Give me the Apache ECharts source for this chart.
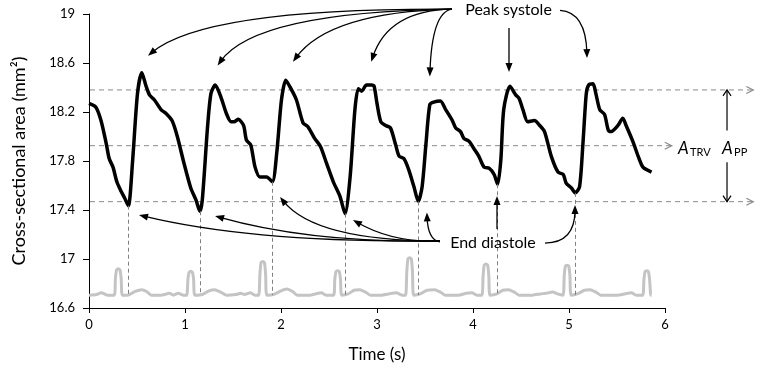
<!DOCTYPE html>
<html>
<head>
<meta charset="utf-8">
<script src="https://cdn.jsdelivr.net/npm/echarts@6/dist/echarts.min.js"></script>
<style>
  html, body { margin: 0; padding: 0; background: #fff; }
  #chart { width: 770px; height: 380px; }
</style>
</head>
<body>
<div id="chart"></div>
<script>
// cross-sectional area trace, [time s, area mm2]
var pulse = [
  [0, 18.27], [0.07, 18.24], [0.125, 18.13], [0.18, 17.94], [0.21, 17.82], [0.25, 17.75], [0.29, 17.63],
  [0.33, 17.56], [0.37, 17.5], [0.41, 17.435], [0.455, 17.81], [0.505, 18.35], [0.55, 18.52], [0.595, 18.41],
  [0.63, 18.34], [0.68, 18.3], [0.75, 18.22], [0.8, 18.19], [0.865, 18.13], [0.92, 18.0], [0.99, 17.78],
  [1.06, 17.58], [1.115, 17.48], [1.155, 17.39], [1.18, 17.48], [1.235, 18.08], [1.27, 18.35], [1.315, 18.42],
  [1.375, 18.32], [1.43, 18.19], [1.48, 18.12], [1.51, 18.12], [1.555, 18.14], [1.61, 18.09], [1.64, 17.97],
  [1.685, 17.93], [1.73, 17.75], [1.78, 17.67], [1.85, 17.67], [1.91, 17.63], [1.955, 17.86], [2.005, 18.3],
  [2.05, 18.46], [2.09, 18.41], [2.16, 18.3], [2.23, 18.11], [2.28, 18.08], [2.35, 17.985], [2.41, 17.92],
  [2.475, 17.78], [2.545, 17.63], [2.615, 17.51], [2.667, 17.37], [2.72, 17.67], [2.77, 18.22], [2.805, 18.39],
  [2.84, 18.37], [2.89, 18.42], [2.945, 18.42], [2.97, 18.41], [3.0, 18.27], [3.04, 18.12], [3.09, 18.09],
  [3.14, 18.07], [3.195, 17.93], [3.23, 17.84], [3.28, 17.82], [3.33, 17.73], [3.385, 17.59], [3.43, 17.47],
  [3.47, 17.59], [3.51, 17.94], [3.55, 18.26], [3.59, 18.28], [3.66, 18.29], [3.715, 18.22], [3.785, 18.13],
  [3.82, 18.07], [3.87, 18.04], [3.905, 17.985], [3.96, 17.96], [4.01, 17.9], [4.06, 17.84], [4.115, 17.75],
  [4.17, 17.74], [4.22, 17.69], [4.257, 17.61], [4.29, 17.81], [4.32, 18.22], [4.385, 18.41], [4.445, 18.34],
  [4.48, 18.31], [4.52, 18.22], [4.57, 18.12], [4.64, 18.13], [4.695, 18.09], [4.745, 18.04], [4.815, 17.84],
  [4.885, 17.71], [4.94, 17.69], [4.97, 17.62], [5.025, 17.58], [5.065, 17.54], [5.11, 17.59], [5.145, 17.94],
  [5.18, 18.35], [5.205, 18.42], [5.25, 18.43], [5.28, 18.35], [5.32, 18.22], [5.37, 18.18], [5.41, 18.05],
  [5.44, 18.04], [5.51, 18.09], [5.56, 18.15], [5.595, 18.09], [5.665, 17.96], [5.72, 17.84], [5.77, 17.75],
  [5.86, 17.71]
]

// ECG trace (grey), drawn on the same scale near the bottom
var ecg = [
  [0, 16.705], [0.08, 16.71], [0.13, 16.725], [0.19, 16.705],
  [0.263, 16.705], [0.275, 16.84], [0.287, 16.91], [0.305, 16.92], [0.323, 16.91], [0.335, 16.84], [0.347, 16.705],
  [0.4, 16.705], [0.48, 16.735], [0.55, 16.75], [0.6, 16.735], [0.65, 16.705], [0.75, 16.705], [0.84, 16.72],
  [0.88, 16.705], [0.93, 16.72], [0.98, 16.705],
  [1.018, 16.705], [1.03, 16.83], [1.042, 16.89], [1.06, 16.9], [1.078, 16.89], [1.09, 16.83], [1.102, 16.705],
  [1.18, 16.71], [1.25, 16.74], [1.31, 16.75], [1.37, 16.73], [1.43, 16.705], [1.53, 16.71], [1.58, 16.72],
  [1.62, 16.71], [1.68, 16.725], [1.73, 16.705],
  [1.768, 16.705], [1.78, 16.87], [1.792, 16.97], [1.81, 16.98], [1.828, 16.97], [1.84, 16.87], [1.852, 16.705],
  [1.92, 16.71], [2.0, 16.74], [2.06, 16.755], [2.12, 16.735], [2.17, 16.705], [2.3, 16.705], [2.36, 16.715],
  [2.42, 16.725], [2.47, 16.705],
  [2.548, 16.705], [2.56, 16.83], [2.572, 16.895], [2.59, 16.905], [2.608, 16.895], [2.62, 16.83], [2.632, 16.705],
  [2.7, 16.715], [2.76, 16.745], [2.82, 16.75], [2.88, 16.73], [2.93, 16.705], [3.05, 16.705], [3.12, 16.715],
  [3.2, 16.725], [3.26, 16.705],
  [3.298, 16.705], [3.31, 16.89], [3.322, 17.0], [3.34, 17.01], [3.358, 17.0], [3.37, 16.89], [3.382, 16.705],
  [3.45, 16.715], [3.52, 16.745], [3.6, 16.75], [3.66, 16.73], [3.71, 16.705], [3.85, 16.705], [3.93, 16.72],
  [3.99, 16.725], [4.04, 16.705],
  [4.093, 16.705], [4.105, 16.86], [4.117, 16.95], [4.135, 16.96], [4.153, 16.95], [4.165, 16.86], [4.177, 16.705],
  [4.25, 16.715], [4.31, 16.745], [4.37, 16.75], [4.43, 16.73], [4.48, 16.705], [4.62, 16.705], [4.7, 16.715],
  [4.76, 16.72], [4.83, 16.73], [4.88, 16.715],
  [4.938, 16.705], [4.95, 16.86], [4.962, 16.94], [4.98, 16.95], [4.998, 16.94], [5.01, 16.86], [5.022, 16.705],
  [5.1, 16.72], [5.16, 16.745], [5.22, 16.75], [5.28, 16.73], [5.33, 16.705], [5.5, 16.705], [5.58, 16.715],
  [5.65, 16.725], [5.7, 16.705],
  [5.768, 16.705], [5.78, 16.83], [5.792, 16.895], [5.81, 16.905], [5.828, 16.895], [5.84, 16.83], [5.852, 16.705],
  [5.86, 16.705]
]

var yTicks = [16.6, 17, 17.4, 17.8, 18.2, 18.6, 19]
var ecgBase = 16.705

// end-diastole minima, dashed drop lines down to the ECG
var endDiastole = [[0.41, 17.435], [1.155, 17.39], [1.91, 17.63], [2.667, 17.37], [3.43, 17.47], [4.257, 17.61], [5.065, 17.54]]

// A_PP / A_TRV reference levels and where their dashed lines end
var levels = [18.38, 17.925, 17.468]
var levelEnds = [6.92, 6.07, 6.92]

// annotation arrows: [start, control (null = straight), tip] in data units
var peakArrows = [
  [[3.78, 19.04], [1.21, 19.05], [0.615, 18.66]],
  [[3.78, 19.04], [1.73, 19.016], [1.34, 18.58]],
  [[3.78, 19.04], [2.5, 19.016], [2.125, 18.61]],
  [[3.78, 19.04], [3.115, 19.03], [2.94, 18.61]],
  [[3.78, 19.04], [3.573, 19.016], [3.55, 18.49]],
  [[4.375, 18.886], null, [4.375, 18.527]],
  [[4.906, 19.03], [5.177, 19.016], [5.1875, 18.64]]
]
var diastoleArrows = [
  [[3.656, 17.147], [1.719, 17.13], [0.521, 17.359]],
  [[3.656, 17.147], [2.312, 17.13], [1.313, 17.351]],
  [[3.656, 17.147], [2.354, 17.147], [1.99, 17.506]],
  [[3.656, 17.147], [3.167, 17.13], [2.75, 17.318]],
  [[3.656, 17.139], [3.531, 17.155], [3.52, 17.38]],
  [[4.25, 17.245], null, [4.25, 17.514]],
  [[4.75, 17.13], [5.0625, 17.13], [5.0625, 17.44]]
]
var peakLabelPos = [4.37, 19.03]
var diastoleLabelPos = [4.208, 17.13]
var trvLabelPos = [6.135, 17.905]
var ppLabelPos = [6.594, 17.905]
var ppArrowX = 6.646
var ppArrowStarts = [18.05, 17.79]

var FONT = 'Lato, "Open Sans", sans-serif'

var chart = echarts.init(document.getElementById('chart'))

var options = {
  animation: false,
  grid: { left: 89, right: 105, top: 14, bottom: 72 },
  xAxis: {
    type: 'value',
    min: 0,
    max: 6,
    interval: 1,
    name: 'Time (s)',
    nameLocation: 'middle',
    nameGap: 38,
    nameTextStyle: { fontFamily: FONT, fontSize: 17, color: '#000' },
    axisLine: { show: true, lineStyle: { color: '#000', width: 1 } },
    axisTick: { show: true, length: 5, lineStyle: { color: '#000' } },
    axisLabel: { fontFamily: FONT, fontSize: 13, color: '#000', margin: 10 },
    splitLine: { show: false }
  },
  yAxis: {
    type: 'value',
    min: 16.6,
    max: 19,
    name: 'Cross-sectional area (mm\u00b2)',
    nameLocation: 'middle',
    nameGap: 61,
    nameTextStyle: { fontFamily: FONT, fontSize: 18, color: '#000' },
    axisLine: { show: true, lineStyle: { color: '#000', width: 1 } },
    axisTick: { show: true, length: 6, customValues: yTicks, lineStyle: { color: '#000' } },
    axisLabel: { fontFamily: FONT, fontSize: 13, color: '#000', margin: 14, customValues: yTicks },
    splitLine: { show: false }
  },
  series: [ {
    name: 'ECG',
    type: 'line',
    data: ecg,
    showSymbol: false,
    smooth: 0.2,
    lineStyle: { color: '#c4c4c4', width: 3 },
    z: 2,
    markLine: {
      silent: true,
      symbol: [ 'none', 'none' ],
      label: { show: false },
      lineStyle: { color: '#808080', type: [ 4, 3 ], width: 1 },
      data: endDiastole.map(function (p) {
        return [ { coord: [ p[0], p[1] ] }, { coord: [ p[0], ecgBase ] } ]
      })
    }
  }, {
    name: 'Area',
    type: 'line',
    data: pulse,
    showSymbol: false,
    smooth: 0.25,
    lineStyle: { color: '#000', width: 3.5 },
    z: 4
  } ]
}

chart.setOption(options)

function px (p) {
  return chart.convertToPixel({ gridIndex: 0 }, p)
}

function head (tip, from, len, half, color, open) {
  var dx = tip[0] - from[0]
  var dy = tip[1] - from[1]
  var d = Math.sqrt(dx * dx + dy * dy) || 1
  dx /= d
  dy /= d
  var bx = tip[0] - dx * len
  var by = tip[1] - dy * len
  var p1 = [ bx - dy * half, by + dx * half ]
  var p2 = [ bx + dy * half, by - dx * half ]
  if (open) {
    return { type: 'polyline', silent: true, z: 10, shape: { points: [ p1, tip, p2 ] }, style: { stroke: color, lineWidth: 1.2, fill: null } }
  }
  return { type: 'polygon', silent: true, z: 10, shape: { points: [ tip, p1, p2 ] }, style: { fill: color } }
}

function arrow (a) {
  var s = px(a[0])
  var t = px(a[2])
  var c = a[1] ? px(a[1]) : s
  var dx = t[0] - c[0]
  var dy = t[1] - c[1]
  var d = Math.sqrt(dx * dx + dy * dy) || 1
  var end = [ t[0] - dx / d * 5, t[1] - dy / d * 5 ]
  var out = []
  if (a[1]) {
    out.push({ type: 'bezierCurve', silent: true, z: 10,
      shape: { x1: s[0], y1: s[1], x2: end[0], y2: end[1], cpx1: c[0], cpy1: c[1] },
      style: { stroke: '#000', lineWidth: 1.3, fill: null } })
  } else {
    out.push({ type: 'line', silent: true, z: 10,
      shape: { x1: s[0], y1: s[1], x2: end[0], y2: end[1] },
      style: { stroke: '#000', lineWidth: 1.3 } })
  }
  out.push(head(t, c, 9, 3.5, '#000', false))
  return out
}

var graphics = []

levels.forEach(function (v, i) {
  var a = px([ 0, v ])
  var b = px([ levelEnds[i], v ])
  graphics.push({ type: 'line', silent: true, z: 1,
    shape: { x1: a[0] + 1, y1: a[1], x2: b[0], y2: b[1] },
    style: { stroke: '#8a8a8a', lineWidth: 1, lineDash: [ 5, 4 ] } })
  graphics.push(head(b, a, 7, 3.5, '#8a8a8a', true))
})

peakArrows.concat(diastoleArrows).forEach(function (a) {
  graphics = graphics.concat(arrow(a))
})

// A_PP double arrow
ppArrowStarts.forEach(function (v, i) {
  var s = px([ ppArrowX, v ])
  var t = px([ ppArrowX, levels[i === 0 ? 0 : 2] ])
  graphics.push({ type: 'line', silent: true, z: 10,
    shape: { x1: s[0], y1: s[1], x2: t[0], y2: t[1] },
    style: { stroke: '#000', lineWidth: 1.2 } })
  graphics.push(head(t, s, 6, 4, '#000', true))
})

function label (pos, text, size, style, align) {
  var p = px(pos)
  return { type: 'text', silent: true, z: 11, x: p[0], y: p[1],
    style: { text: text, fontFamily: FONT, fontSize: size, fontStyle: style || 'normal', fill: '#000',
      align: align || 'center', verticalAlign: 'middle' } }
}

graphics.push(label(peakLabelPos, 'Peak systole', 16))
graphics.push(label(diastoleLabelPos, 'End diastole', 16))

var trv = px(trvLabelPos)
var pp = px(ppLabelPos)
graphics.push(label(trvLabelPos, 'A', 17, 'italic', 'left'))
graphics.push({ type: 'text', silent: true, z: 11, x: trv[0] + 12, y: trv[1] + 4,
  style: { text: 'TRV', fontFamily: FONT, fontSize: 11, fill: '#000', align: 'left', verticalAlign: 'middle' } })
graphics.push(label(ppLabelPos, 'A', 17, 'italic', 'left'))
graphics.push({ type: 'text', silent: true, z: 11, x: pp[0] + 12, y: pp[1] + 4,
  style: { text: 'PP', fontFamily: FONT, fontSize: 11, fill: '#000', align: 'left', verticalAlign: 'middle' } })

chart.setOption({ graphic: graphics })
</script>
</body>
</html>
